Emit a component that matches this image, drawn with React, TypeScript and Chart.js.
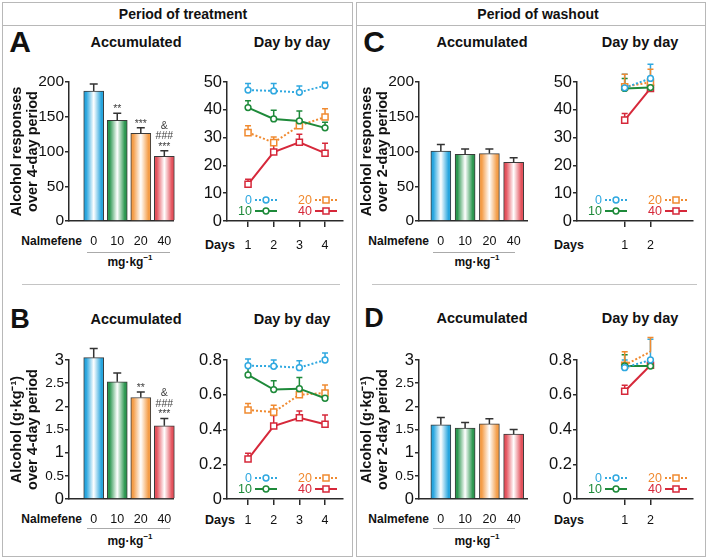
import React, { useEffect, useRef } from 'react';
import { Chart, registerables } from 'chart.js';

Chart.register(...registerables);

const FONT = '"Liberation Sans", Arial, Helvetica, sans-serif';
Chart.defaults.font.family = FONT;
Chart.defaults.color = '#111';

// ---------------- data ----------------
const doseLabels = ['0', '10', '20', '40'];
const barColors = ['#27a5de', '#2c9750', '#f49d48', '#e4525c'];
const lineColors = ['#2fa8e0', '#1e8a3a', '#f08a30', '#d6283a'];

const treatDays = [1, 2, 3, 4];
const washDays = [1, 2];

// A - accumulated responses, treatment (mean, top of SEM)
const accRespTreat = [187, 145, 126, 93];
const accRespTreatErr = [197, 155, 134, 101];
const accRespTreatNotes = [[], ['**'], ['***'], ['&', '###', '***']];

// B - accumulated alcohol g/kg, treatment
const accAlcTreat = [3.05, 2.53, 2.19, 1.58];
const accAlcTreatErr = [3.25, 2.72, 2.31, 1.74];
const accAlcTreatNotes = [[], [], ['**'], ['&', '###', '***']];

// C - accumulated responses, washout
const accRespWash = [100.5, 96, 97, 84.5];
const accRespWashErr = [110, 103.5, 103.5, 91];

// D - accumulated alcohol g/kg, washout
const accAlcWash = [1.6, 1.53, 1.62, 1.4];
const accAlcWashErr = [1.76, 1.65, 1.73, 1.5];

// A - day by day responses, treatment
const dayRespTreat0 = [47.1, 46.8, 46.3, 48.7];
const dayRespTreat0Err = [49.5, 49.5, 48.6, 49.9];
const dayRespTreat10 = [40.8, 36.7, 36.0, 33.5];
const dayRespTreat10Err = [43.3, 39.8, 39.6, 35.5];
const dayRespTreat20 = [31.8, 28.2, 34.3, 37.4];
const dayRespTreat20Err = [34.3, 30.2, 36.5, 40.4];
const dayRespTreat40 = [13.2, 24.8, 28.3, 24.4];
const dayRespTreat40Err = [15.0, 27.5, 31.2, 28.0];

// B - day by day alcohol, treatment
const dayAlcTreat0 = [0.767, 0.764, 0.756, 0.8];
const dayAlcTreat0Err = [0.806, 0.8, 0.795, 0.84];
const dayAlcTreat10 = [0.714, 0.63, 0.635, 0.58];
const dayAlcTreat10Err = [0.77, 0.68, 0.7, 0.62];
const dayAlcTreat20 = [0.512, 0.5, 0.6, 0.61];
const dayAlcTreat20Err = [0.55, 0.54, 0.63, 0.656];
const dayAlcTreat40 = [0.23, 0.42, 0.468, 0.43];
const dayAlcTreat40Err = [0.263, 0.48, 0.506, 0.483];

// C - day by day responses, washout
const dayRespWash0 = [47.9, 51.3];
const dayRespWash0Err = [52.8, 56.4];
const dayRespWash10 = [47.7, 48.0];
const dayRespWash10Err = [51.3, 49.5];
const dayRespWash20 = [48.3, 49.9];
const dayRespWash20Err = [52.8, 54.6];
const dayRespWash40 = [36.3, 47.7];
const dayRespWash40Err = [38.7, 50.5];

// D - day by day alcohol, washout
const dayAlcWash0 = [0.756, 0.8];
const dayAlcWash0Err = [0.8, 0.92];
const dayAlcWash10 = [0.766, 0.765];
const dayAlcWash10Err = [0.83, 0.78];
const dayAlcWash20 = [0.77, 0.848];
const dayAlcWash20Err = [0.848, 0.93];
const dayAlcWash40 = [0.62, 0.77];
const dayAlcWash40Err = [0.655, 0.8];

const respTicksBar = [0, 50, 100, 150, 200];
const alcTicksBar = [0, 0.5, 1, 1.5, 2, 2.5, 3];
const respTicksLine = [0, 10, 20, 30, 40, 50];
const alcTicksLine = [0, 0.2, 0.4, 0.6, 0.8];

// ---------------- plugins ----------------
function drawErrors(chart: any) {
  const { ctx, scales } = chart;
  const y = scales.y;
  chart.data.datasets.forEach((ds: any, di: number) => {
    if (!ds.errTop) return;
    const meta = chart.getDatasetMeta(di);
    ctx.save();
    ctx.strokeStyle = ds.errColor || ds.borderColor;
    ctx.lineWidth = 1.5;
    ctx.setLineDash([]);
    meta.data.forEach((el: any, i: number) => {
      const raw = ds.data[i];
      const v = typeof raw === 'object' ? raw.y : raw;
      const p0 = y.getPixelForValue(v);
      const p1 = y.getPixelForValue(ds.errTop[i]);
      const hw = ds.capHalf || 3.5;
      ctx.beginPath();
      ctx.moveTo(el.x, p0);
      ctx.lineTo(el.x, p1);
      ctx.moveTo(el.x - hw, p1);
      ctx.lineTo(el.x + hw, p1);
      ctx.stroke();
    });
    ctx.restore();
  });
}

const errPlugin = {
  id: 'errbars',
  beforeDatasetsDraw(chart: any) {
    if (chart.config.type === 'line') drawErrors(chart);
  },
  afterDatasetsDraw(chart: any) {
    if (chart.config.type === 'bar') drawErrors(chart);
  },
};

const notesPlugin = {
  id: 'notes',
  afterDatasetsDraw(chart: any) {
    const { ctx, scales } = chart;
    chart.data.datasets.forEach((ds: any, di: number) => {
      if (!ds.notes) return;
      const meta = chart.getDatasetMeta(di);
      meta.data.forEach((el: any, i: number) => {
        const lines = (ds.notes[i] || []).slice().reverse();
        const base = scales.y.getPixelForValue(ds.errTop[i]) - 1;
        ctx.save();
        ctx.font = `10.5px ${FONT}`;
        ctx.fillStyle = '#444';
        ctx.textAlign = 'center';
        ctx.textBaseline = 'alphabetic';
        lines.forEach((t: string, k: number) => ctx.fillText(t, el.x, base - k * 10.5));
        ctx.restore();
      });
    });
  },
};

function drawMarker(ctx: any, style: string, x: number, y: number, r: number, color: string) {
  ctx.save();
  ctx.setLineDash([]);
  ctx.fillStyle = '#fff';
  ctx.strokeStyle = color;
  ctx.lineWidth = 1.5;
  ctx.beginPath();
  if (style === 'rect') {
    const s = r * Math.SQRT1_2;
    ctx.rect(x - s, y - s, 2 * s, 2 * s);
  } else {
    ctx.arc(x, y, r, 0, Math.PI * 2);
  }
  ctx.fill();
  ctx.stroke();
  ctx.restore();
}

const legendPlugin = {
  id: 'miniLegend',
  afterDatasetsDraw(chart: any) {
    const { ctx, chartArea } = chart;
    chart.data.datasets.forEach((ds: any, i: number) => {
      const col = i < 2 ? 0 : 1;
      const row = i % 2;
      const tx = chartArea.left + (col === 0 ? 25 : 85);
      const ty = chartArea.bottom - (row === 0 ? 21 : 10);
      ctx.save();
      ctx.font = `12.5px ${FONT}`;
      ctx.fillStyle = ds.borderColor;
      ctx.textAlign = 'right';
      ctx.textBaseline = 'middle';
      ctx.fillText(ds.label, tx, ty + 0.5);
      ctx.strokeStyle = ds.borderColor;
      ctx.lineWidth = 2;
      ctx.setLineDash(ds.borderDash || []);
      ctx.beginPath();
      ctx.moveTo(tx + 3, ty);
      ctx.lineTo(tx + 25, ty);
      ctx.stroke();
      ctx.restore();
      drawMarker(ctx, ds.pointStyle, tx + 14, ty, ds.pointRadius, ds.borderColor);
    });
  },
};

function barFill(context: any) {
  const color = barColors[context.dataIndex] || barColors[0];
  if (context.type !== 'data') return color;
  const chart = context.chart;
  const xs = chart.scales && chart.scales.x;
  if (!xs) return color;
  const xv = context.parsed ? context.parsed.x : context.dataIndex + 1;
  const cx = xs.getPixelForValue(xv);
  if (!isFinite(cx)) return color;
  const g = chart.ctx.createLinearGradient(cx - 10, 0, cx + 10, 0);
  g.addColorStop(0, color);
  g.addColorStop(0.12, color);
  g.addColorStop(0.5, '#ffffff');
  g.addColorStop(0.88, color);
  g.addColorStop(1, color);
  return g;
}

const axisColor = '#2a2a2a';

function yAxis(ticksList: number[], extra: any) {
  return {
    min: ticksList[0],
    max: ticksList[ticksList.length - 1],
    afterBuildTicks: (sc: any) => {
      sc.ticks = ticksList.map((v) => ({ value: v }));
    },
    ticks: {
      padding: 1,
      color: '#111',
      font: extra.font || { size: 15 },
      callback: (v: any) => String(+Number(v).toFixed(2)),
    },
    grid: { display: true, drawOnChartArea: false, drawTicks: true, tickLength: 4, color: axisColor, lineWidth: 1.5 },
    border: { display: true, color: axisColor, width: 1.5 },
    afterFit: (sc: any) => {
      sc.width = extra.width;
    },
    title: extra.title,
  };
}

function makeBar(s: any) {
  return () => ({
    type: 'bar',
    data: {
      datasets: [
        {
          data: s.values.map((v: number, i: number) => ({ x: i + 1, y: v })),
          errTop: s.errs,
          notes: s.notes,
          errColor: '#333',
          capHalf: 4,
          barThickness: 20,
          borderColor: '#3a3a3a',
          borderWidth: 1,
          backgroundColor: barFill,
          clip: false,
        },
      ],
    },
    options: {
      responsive: false,
      animation: false,
      events: [],
      layout: {
        padding: {
          left: 0,
          top: s.areaTop - s.top,
          right: s.left + s.width - s.areaRight,
          bottom: s.top + s.height - s.areaBottom - 30,
        },
      },
      plugins: { legend: { display: false }, tooltip: { enabled: false } },
      scales: {
        x: {
          type: 'linear',
          offset: false,
          min: s.xMin,
          max: s.xMax,
          afterBuildTicks: (sc: any) => {
            sc.ticks = doseLabels.map((_, i) => ({ value: i + 1 }));
          },
          ticks: {
            padding: 13,
            color: '#111',
            font: { size: 12.5 },
            maxRotation: 0,
            autoSkip: false,
            callback: (v: any) => doseLabels[Math.round(v) - 1] || '',
          },
          grid: { display: false, drawTicks: false, offset: false },
          border: { display: true, color: axisColor, width: 1.5 },
          afterFit: (sc: any) => {
            sc.height = 30;
          },
        },
        y: yAxis(s.yTicks, {
          width: s.areaLeft - s.left,
          font: s.halfTicks
            ? (c: any) => ({ size: c.tick && !Number.isInteger(c.tick.value) ? 13.5 : 16.5 })
            : { size: 15.5 },
          title: {
            display: true,
            text: s.title,
            color: '#111',
            font: { size: 14.5, weight: 'bold', lineHeight: 1.1 },
            padding: { top: 9, bottom: 0 },
          },
        }),
      },
    },
    plugins: [errPlugin, notesPlugin],
  });
}

function lineDs(i: number, days: number[], vals: number[], errs: number[]) {
  return {
    label: doseLabels[i],
    data: days.map((d, j) => ({ x: d, y: vals[j] })),
    errTop: errs,
    capHalf: 3,
    borderColor: lineColors[i],
    borderWidth: 2,
    borderDash: i % 2 === 0 ? [2, 2] : [],
    pointStyle: i < 2 ? 'circle' : 'rect',
    pointRadius: i < 2 ? 2.9 : 4.3,
    pointBackgroundColor: '#fff',
    pointBorderColor: lineColors[i],
    pointBorderWidth: 1.5,
    tension: 0,
    clip: false,
  };
}

function makeLine(s: any) {
  return () => ({
    type: 'line',
    data: {
      datasets: s.series.map((ser: any, i: number) => lineDs(i, s.days, ser[0], ser[1])),
    },
    options: {
      responsive: false,
      animation: false,
      events: [],
      layout: {
        padding: {
          left: 0,
          top: s.areaTop - s.top,
          right: s.left + s.width - s.areaRight,
          bottom: s.top + s.height - s.areaBottom - 30,
        },
      },
      plugins: { legend: { display: false }, tooltip: { enabled: false } },
      scales: {
        x: {
          type: 'linear',
          min: s.xMin,
          max: s.xMax,
          afterBuildTicks: (sc: any) => {
            sc.ticks = s.days.map((v: number) => ({ value: v }));
          },
          ticks: {
            padding: s.labelPad,
            color: '#111',
            font: { size: 12.5 },
            maxRotation: 0,
            autoSkip: false,
            callback: (v: any) => String(v),
          },
          grid: { display: true, drawOnChartArea: false, drawTicks: true, tickLength: 6, color: axisColor, lineWidth: 1.5 },
          border: { display: true, color: axisColor, width: 1.5 },
          afterFit: (sc: any) => {
            sc.height = 30;
          },
        },
        y: yAxis(s.yTicks, { width: s.areaLeft - s.left, font: { size: 16.5 } }),
      },
    },
    plugins: [errPlugin, legendPlugin],
  });
}

// ---------------- components ----------------
function ChartCanvas({ left, top, width, height, make }: any) {
  const ref = useRef<HTMLCanvasElement>(null);
  useEffect(() => {
    const chart = new Chart(ref.current as any, make() as any);
    return () => chart.destroy();
  }, []);
  return (
    <canvas
      ref={ref}
      width={width}
      height={height}
      style={{ position: 'absolute', left, top, width, height }}
    />
  );
}

function Txt({ x, y, size = 12, bold = true, align = 'center', children }: any) {
  const tx = align === 'center' ? '-50%' : align === 'right' ? '-100%' : '0';
  return (
    <div
      style={{
        position: 'absolute',
        left: x,
        top: y,
        transform: `translate(${tx}, -50%)`,
        fontSize: size,
        fontWeight: bold ? 700 : 400,
        whiteSpace: 'nowrap',
        lineHeight: 1,
        fontFamily: FONT,
        color: '#111',
      }}
    >
      {children}
    </div>
  );
}

function HLine({ x, y, w, color = '#b8b8b8' }: any) {
  return <div style={{ position: 'absolute', left: x, top: y, width: w, height: 1, background: color }} />;
}

function Unit({ x, y }: any) {
  return (
    <Txt x={x} y={y} size={12}>
      mg·kg<sup style={{ fontSize: 8, verticalAlign: 'top', position: 'relative', top: -2 }}>−1</sup>
    </Txt>
  );
}

const respTitle4 = ['Alcohol responses', 'over 4-day period'];
const alcTitle4 = ['Alcohol (g·kg⁻¹)', 'over 4-day period'];
const respTitle2 = ['Alcohol responses', 'over 2-day period'];
const alcTitle2 = ['Alcohol (g·kg⁻¹)', 'over 2-day period'];

export default function App() {
  const rowTop = [55, 330];
  const rowArea = [
    [82, 221],
    [360, 499],
  ];
  return (
    <div
      style={{
        position: 'absolute',
        left: 0,
        top: 0,
        width: 709,
        height: 558,
        background: '#fff',
        overflow: 'hidden',
        fontFamily: FONT,
      }}
    >
      {/* boxes */}
      <div style={{ position: 'absolute', left: 2, top: 2, width: 351, height: 555, border: '1px solid #b8b8b8', boxSizing: 'border-box' }} />
      <div style={{ position: 'absolute', left: 356, top: 2, width: 350, height: 555, border: '1px solid #b8b8b8', boxSizing: 'border-box' }} />
      <HLine x={2} y={25} w={351} />
      <HLine x={356} y={25} w={350} />
      <HLine x={22} y={284} w={318} color="#c4c4c4" />
      <HLine x={372} y={284} w={325} color="#c4c4c4" />

      <Txt x={183} y={13.5} size={14}>Period of treatment</Txt>
      <Txt x={538} y={13.5} size={14}>Period of washout</Txt>

      <Txt x={20} y={42} size={30}>A</Txt>
      <Txt x={20} y={319} size={27}>B</Txt>
      <Txt x={374} y={42} size={30}>C</Txt>
      <Txt x={374} y={318} size={27}>D</Txt>

      <Txt x={136} y={42} size={14.5}>Accumulated</Txt>
      <Txt x={292} y={42} size={14.5}>Day by day</Txt>
      <Txt x={136} y={319} size={14.5}>Accumulated</Txt>
      <Txt x={292} y={319} size={14.5}>Day by day</Txt>
      <Txt x={482} y={42} size={14.5}>Accumulated</Txt>
      <Txt x={640} y={42} size={14.5}>Day by day</Txt>
      <Txt x={482} y={318} size={14.5}>Accumulated</Txt>
      <Txt x={640} y={318} size={14.5}>Day by day</Txt>

      <Txt x={82} y={241} size={12} align="right">Nalmefene</Txt>
      <Txt x={82} y={519} size={12} align="right">Nalmefene</Txt>
      <Txt x={429} y={241} size={12} align="right">Nalmefene</Txt>
      <Txt x={429} y={519} size={12} align="right">Nalmefene</Txt>

      <Txt x={220} y={245} size={12.5}>Days</Txt>
      <Txt x={220} y={520} size={12.5}>Days</Txt>
      <Txt x={569} y={245} size={12.5}>Days</Txt>
      <Txt x={569} y={520} size={12.5}>Days</Txt>

      <HLine x={87} y={252} w={83} color="#aaaaaa" />
      <HLine x={87} y={528} w={83} color="#aaaaaa" />
      <HLine x={433} y={252} w={82} color="#aaaaaa" />
      <HLine x={433} y={528} w={82} color="#aaaaaa" />
      <Unit x={130} y={262} />
      <Unit x={130} y={541} />
      <Unit x={477} y={262} />
      <Unit x={477} y={541} />

      {/* A */}
      <ChartCanvas
        left={0}
        top={rowTop[0]}
        width={185}
        height={215}
        make={makeBar({
          left: 0, top: rowTop[0], width: 185, height: 215,
          areaLeft: 69, areaRight: 177, areaTop: rowArea[0][0], areaBottom: rowArea[0][1],
          xMin: -0.05, xMax: 4.4,
          values: accRespTreat, errs: accRespTreatErr, notes: accRespTreatNotes,
          yTicks: respTicksBar, title: respTitle4,
        })}
      />
      <ChartCanvas
        left={185}
        top={rowTop[0]}
        width={170}
        height={215}
        make={makeLine({
          left: 185, top: rowTop[0], width: 170, height: 215,
          areaLeft: 227, areaRight: 343, areaTop: rowArea[0][0], areaBottom: rowArea[0][1],
          xMin: 0.18, xMax: 4.7, labelPad: 11,
          days: treatDays, yTicks: respTicksLine,
          series: [
            [dayRespTreat0, dayRespTreat0Err],
            [dayRespTreat10, dayRespTreat10Err],
            [dayRespTreat20, dayRespTreat20Err],
            [dayRespTreat40, dayRespTreat40Err],
          ],
        })}
      />
      {/* B */}
      <ChartCanvas
        left={0}
        top={rowTop[1]}
        width={185}
        height={215}
        make={makeBar({
          left: 0, top: rowTop[1], width: 185, height: 215,
          areaLeft: 69, areaRight: 177, areaTop: rowArea[1][0], areaBottom: rowArea[1][1],
          xMin: -0.05, xMax: 4.4,
          values: accAlcTreat, errs: accAlcTreatErr, notes: accAlcTreatNotes,
          yTicks: alcTicksBar, title: alcTitle4, halfTicks: true,
        })}
      />
      <ChartCanvas
        left={185}
        top={rowTop[1]}
        width={170}
        height={215}
        make={makeLine({
          left: 185, top: rowTop[1], width: 170, height: 215,
          areaLeft: 227, areaRight: 343, areaTop: rowArea[1][0], areaBottom: rowArea[1][1],
          xMin: 0.18, xMax: 4.7, labelPad: 8,
          days: treatDays, yTicks: alcTicksLine,
          series: [
            [dayAlcTreat0, dayAlcTreat0Err],
            [dayAlcTreat10, dayAlcTreat10Err],
            [dayAlcTreat20, dayAlcTreat20Err],
            [dayAlcTreat40, dayAlcTreat40Err],
          ],
        })}
      />
      {/* C */}
      <ChartCanvas
        left={350}
        top={rowTop[0]}
        width={185}
        height={215}
        make={makeBar({
          left: 350, top: rowTop[0], width: 185, height: 215,
          areaLeft: 419, areaRight: 527, areaTop: rowArea[0][0], areaBottom: rowArea[0][1],
          xMin: 0.1, xMax: 4.55,
          values: accRespWash, errs: accRespWashErr, notes: null,
          yTicks: respTicksBar, title: respTitle2,
        })}
      />
      <ChartCanvas
        left={535}
        top={rowTop[0]}
        width={170}
        height={215}
        make={makeLine({
          left: 535, top: rowTop[0], width: 170, height: 215,
          areaLeft: 577, areaRight: 693, areaTop: rowArea[0][0], areaBottom: rowArea[0][1],
          xMin: -0.85, xMax: 3.65, labelPad: 11,
          days: washDays, yTicks: respTicksLine,
          series: [
            [dayRespWash0, dayRespWash0Err],
            [dayRespWash10, dayRespWash10Err],
            [dayRespWash20, dayRespWash20Err],
            [dayRespWash40, dayRespWash40Err],
          ],
        })}
      />
      {/* D */}
      <ChartCanvas
        left={350}
        top={rowTop[1]}
        width={185}
        height={215}
        make={makeBar({
          left: 350, top: rowTop[1], width: 185, height: 215,
          areaLeft: 419, areaRight: 527, areaTop: rowArea[1][0], areaBottom: rowArea[1][1],
          xMin: 0.1, xMax: 4.55,
          values: accAlcWash, errs: accAlcWashErr, notes: null,
          yTicks: alcTicksBar, title: alcTitle2, halfTicks: true,
        })}
      />
      <ChartCanvas
        left={535}
        top={rowTop[1]}
        width={170}
        height={215}
        make={makeLine({
          left: 535, top: rowTop[1], width: 170, height: 215,
          areaLeft: 577, areaRight: 693, areaTop: rowArea[1][0], areaBottom: rowArea[1][1],
          xMin: -0.85, xMax: 3.65, labelPad: 8,
          days: washDays, yTicks: alcTicksLine,
          series: [
            [dayAlcWash0, dayAlcWash0Err],
            [dayAlcWash10, dayAlcWash10Err],
            [dayAlcWash20, dayAlcWash20Err],
            [dayAlcWash40, dayAlcWash40Err],
          ],
        })}
      />
    </div>
  );
}
